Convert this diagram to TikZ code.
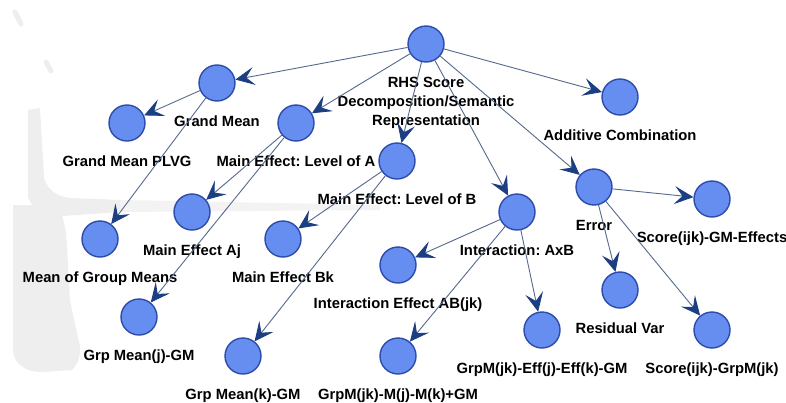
\documentclass[tikz,border=0pt]{standalone}
\usepackage{fontspec}
\setmainfont{Liberation Sans}
\usetikzlibrary{arrows.meta}
\definecolor{nodefill}{RGB}{102,142,240}
\definecolor{nodeline}{RGB}{45,75,170}
\definecolor{edgecol}{RGB}{85,105,140}
\definecolor{tipcol}{RGB}{28,62,130}
\definecolor{ghost}{RGB}{238,238,238}
\definecolor{ghostband}{RGB}{243,243,243}
\frenchspacing
\begin{document}
\begin{tikzpicture}[x=1pt,y=-1pt,
  vtx/.style={circle, draw=nodeline, fill=nodefill, line width=1.4pt, minimum size=36pt, inner sep=0pt},
  lbl/.style={font=\fontsize{14.8}{19}\selectfont\bfseries, text=black, align=center, inner sep=0pt, anchor=base},
  link/.style={draw=edgecol, line width=0.9pt, -{Stealth[length=19pt,width=18pt,inset=8pt,color=tipcol]}}]

% canvas
\fill[white] (0,0) rectangle (786,402);
\useasboundingbox (0,0) rectangle (786,402);

% faint background emblem
\fill[ghost] (13,205) -- (13,350) .. controls (14,366) and (28,372) .. (42,372)
  -- (72,370) .. controls (80,362) and (82,350) .. (78,338) -- (70,300) -- (66,232) -- (60,205) -- cycle;
\fill[ghost] (28,110) -- (40,108) -- (44,178) .. controls (48,190) and (56,196) .. (70,198)
  -- (120,200) -- (120,212) -- (62,216) .. controls (40,214) and (30,206) .. (28,196) -- cycle;
\fill[ghostband] (120,200) -- (380,205) -- (380,210) -- (120,212) -- cycle;
\draw[ghost, line width=5pt, line cap=round] (15,12) -- (21,24);
\draw[ghost, line width=5pt, line cap=round] (46,62) -- (51,71);

% vertices
\node[vtx] (root) at (426,44) {};
\node[vtx] (gm)   at (217,83) {};
\node[vtx] (plvg) at (127,123) {};
\node[vtx] (mea)  at (296,123) {};
\node[vtx] (meb)  at (397,161) {};
\node[vtx] (add)  at (620,97) {};
\node[vtx] (err)  at (594,187) {};
\node[vtx] (sgme) at (712,199) {};
\node[vtx] (axb)  at (517,212) {};
\node[vtx] (aj)   at (192,212) {};
\node[vtx] (mgm)  at (100,239) {};
\node[vtx] (bk)   at (283,239) {};
\node[vtx] (abjk) at (398,265) {};
\node[vtx] (res)  at (620,290) {};
\node[vtx] (gmj)  at (139,317) {};
\node[vtx] (eff)  at (542,330) {};
\node[vtx] (sgrp) at (712,330) {};
\node[vtx] (gmk)  at (243,356) {};
\node[vtx] (mjk)  at (398,356) {};

% labels, baseline 43pt below each vertex centre (last line for the three-line one)
\node[lbl] (t-root) at ([yshift=-81pt]root.center) {RHS Score\\Decomposition/Semantic\\Representation};
\node[lbl] (t-gm)   at ([yshift=-43pt]gm.center)   {Grand Mean};
\node[lbl] (t-plvg) at ([yshift=-43pt]plvg.center) {Grand Mean PLVG};
\node[lbl] (t-mea)  at ([yshift=-43pt]mea.center)  {Main Effect: Level of A};
\node[lbl] (t-meb)  at ([yshift=-43pt]meb.center)  {Main Effect: Level of B};
\node[lbl] (t-add)  at ([yshift=-43pt]add.center)  {Additive Combination};
\node[lbl] (t-err)  at ([yshift=-43pt]err.center)  {Error};
\node[lbl] (t-sgme) at ([yshift=-43pt]sgme.center) {Score(ijk)-GM-Effects};
\node[lbl] (t-axb)  at ([yshift=-43pt]axb.center)  {Interaction: AxB};
\node[lbl] (t-aj)   at ([yshift=-43pt]aj.center)   {Main Effect Aj};
\node[lbl] (t-mgm)  at ([yshift=-43pt]mgm.center)  {Mean of Group Means};
\node[lbl] (t-bk)   at ([yshift=-43pt]bk.center)   {Main Effect Bk};
\node[lbl] (t-abjk) at ([yshift=-43pt]abjk.center) {Interaction Effect AB(jk)};
\node[lbl] (t-res)  at ([yshift=-43pt]res.center)  {Residual Var};
\node[lbl] (t-gmj)  at ([yshift=-43pt]gmj.center)  {Grp Mean(j)-GM};
\node[lbl] (t-eff)  at ([yshift=-43pt]eff.center)  {GrpM(jk)-Eff(j)-Eff(k)-GM};
\node[lbl] (t-sgrp) at ([yshift=-43pt]sgrp.center) {Score(ijk)-GrpM(jk)};
\node[lbl] (t-gmk)  at ([yshift=-43pt]gmk.center)  {Grp Mean(k)-GM};
\node[lbl] (t-mjk)  at ([yshift=-43pt]mjk.center)  {GrpM(jk)-M(j)-M(k)+GM};

% connectors
\draw[link] (root) -- (gm);
\draw[link] (root) -- (mea);
\draw[link] (root) -- (meb);
\draw[link] (root) -- (axb);
\draw[link] (root) -- (err);
\draw[link] (root) -- (add);
\draw[link] (gm) -- (plvg);
\draw[link] (gm) -- (mgm);
\draw[link] (mea) -- (aj);
\draw[link] (mea) -- (gmj);
\draw[link] (meb) -- (bk);
\draw[link] (meb) -- (gmk);
\draw[link] (axb) -- (abjk);
\draw[link] (axb) -- (mjk);
\draw[link] (axb) -- (eff);
\draw[link] (err) -- (sgme);
\draw[link] (err) -- (res);
\draw[link] (err) -- (sgrp);
\end{tikzpicture}
\end{document}
